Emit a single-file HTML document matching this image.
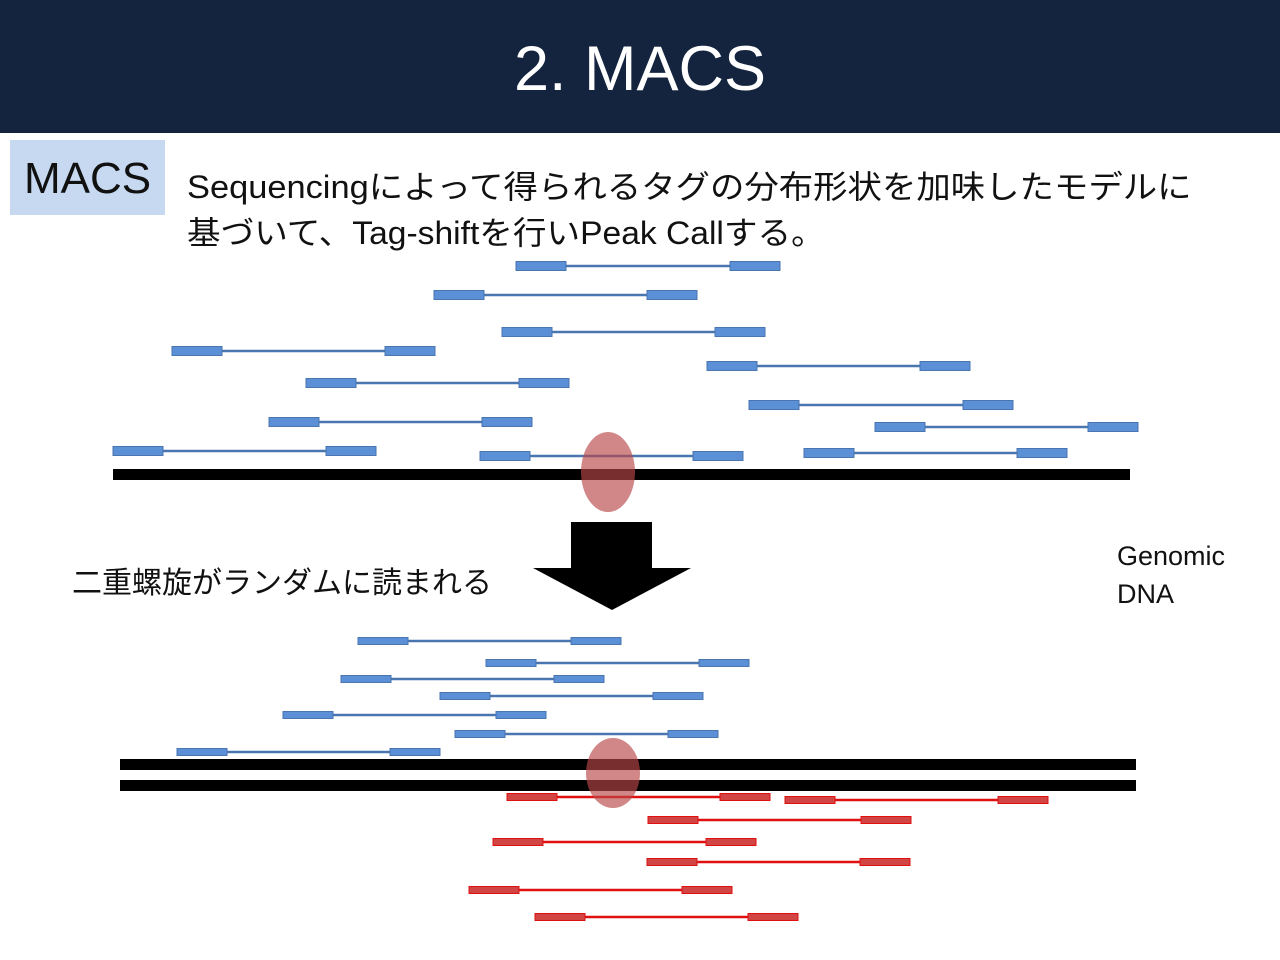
<!DOCTYPE html>
<html><head><meta charset="utf-8"><style>
body{margin:0;width:1280px;height:960px;background:#fff;overflow:hidden;position:relative;font-family:"Liberation Sans","Noto Sans CJK JP",sans-serif}
.hdr{position:absolute;left:0;top:0;width:1280px;height:133px;background:#14243f;color:#fff;font-size:63px;text-align:center;line-height:138px}
.box{position:absolute;left:10px;top:140px;width:155px;height:75px;background:#c6d9f0;font-size:44px;line-height:78px;text-align:center;color:#111}
.t{position:absolute;left:187px;font-size:32px;color:#111;white-space:nowrap;transform-origin:0 0}
.s{position:absolute;font-size:30px;color:#111;white-space:nowrap;transform-origin:0 0}
svg{position:absolute;left:0;top:0}
</style></head><body>
<div class="hdr">2. MACS</div>
<div class="box">MACS</div>
<div class="t" style="top:162px;transform:scaleX(1.075)">Sequencingによって得られるタグの分布形状を加味したモデルに</div>
<div class="t" style="top:208px;transform:scaleX(1.05)">基づいて、Tag-shiftを行いPeak Callする。</div>
<div class="s" style="left:72px;top:558px">二重螺旋がランダムに読まれる</div>
<div class="s" style="left:1117px;top:537px;font-size:27px;line-height:38px">Genomic<br>DNA</div>
<svg width="1280" height="960" id="sv"></svg>
<script>
const NS="http://www.w3.org/2000/svg",sv=document.getElementById('sv');
function el(t,a){const e=document.createElementNS(NS,t);for(const k in a)e.setAttribute(k,a[k]);sv.appendChild(e);return e;}
function read(x1,x2,y,c,lc,h){el('line',{x1:x1+25,x2:x2-25,y1:y,y2:y,stroke:lc,'stroke-width':2.5});
el('rect',{x:x1,y:y-h/2,width:50,height:h,fill:c,stroke:lc,'stroke-width':1});
el('rect',{x:x2-50,y:y-h/2,width:50,height:h,fill:c,stroke:lc,'stroke-width':1});}
const B='#5b8fd6',BL='#4a76b0',R='#d24545',RL='#e01010';
[[516,780,266],[434,697,295],[502,765,332],[172,435,351],[306,569,383],[707,970,366],[749,1013,405],[269,532,422],[875,1138,427],[113,376,451],[480,743,456],[804,1067,453]].forEach(r=>read(r[0],r[1],r[2],B,BL,9));
el('rect',{x:113,y:469,width:1017,height:11,fill:'#000'});
el('ellipse',{cx:608,cy:472,rx:27,ry:40,fill:'rgba(185,70,70,0.65)'});
el('polygon',{points:'571,522 652,522 652,568 691,568 612,610 533,568 571,568',fill:'#000'});
[[358,621,641],[486,749,663],[341,604,679],[440,703,696],[283,546,715],[455,718,734],[177,440,752]].forEach(r=>read(r[0],r[1],r[2],B,BL,7));
el('rect',{x:120,y:759,width:1016,height:11,fill:'#000'});
el('rect',{x:120,y:780,width:1016,height:11,fill:'#000'});
[[507,770,797],[785,1048,800],[648,911,820],[493,756,842],[647,910,862],[469,732,890],[535,798,917]].forEach(r=>read(r[0],r[1],r[2],R,RL,7));
el('ellipse',{cx:613,cy:773,rx:27,ry:35,fill:'rgba(185,70,70,0.65)'});
</script>
</body></html>
